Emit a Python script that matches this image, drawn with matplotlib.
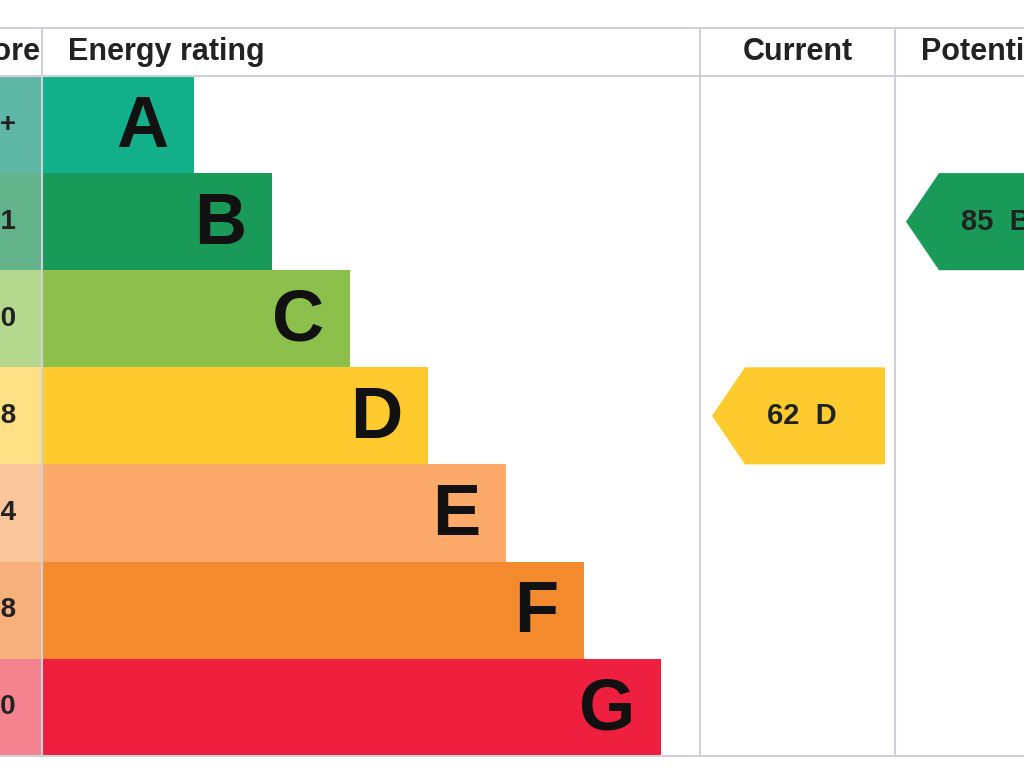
import matplotlib
matplotlib.use("Agg")
import matplotlib.pyplot as plt
from matplotlib.patches import Rectangle, Polygon

plt.rcParams['font.family'] = ['Liberation Sans', 'DejaVu Sans']

letters = ["A", "B", "C", "D", "E", "F", "G"]
ranges = ["92+", "81-91", "69-80", "55-68", "39-54", "21-38", "1-20"]
bar_ends = [194, 272, 350, 428, 506, 584, 661]
colors = ["#12b08a", "#1a9a58", "#8cbf4c", "#fdcb2d", "#fca96a", "#f48a2e", "#ef1f3f"]
light = ["#5fb8a6", "#62b38a", "#b5d88f", "#fde184", "#fcc69c", "#f7b07c", "#f5838f"]
current_val, current_band = 62, "D"
potential_val, potential_band = 85, "B"

fig = plt.figure(figsize=(10.24, 7.68), dpi=100)
ax = fig.add_axes([0, 0, 1, 1])
ax.set_xlim(0, 1024); ax.set_ylim(768, 0); ax.axis("off")

top, rh = 76, 97.1
grid = "#d0d0d8"
for y in (28, 76, 756):
    ax.plot([0, 1024], [y, y], color=grid, lw=1.5)
for x in (42, 700, 895):
    ax.plot([x, x], [28, 756], color=grid, lw=1.5)

ax.text(40, 52, "Score", ha="right", va="center", fontsize=22, fontweight="bold", color="#222")
ax.text(68, 52, "Energy rating", ha="left", va="center", fontsize=22, fontweight="bold", color="#222")
ax.text(798, 52, "Current", ha="center", va="center", fontsize=22, fontweight="bold", color="#222")
ax.text(921, 52, "Potential", ha="left", va="center", fontsize=22, fontweight="bold", color="#222")

for i, (L, r, e, c, lc) in enumerate(zip(letters, ranges, bar_ends, colors, light)):
    y0 = top + i * rh
    ax.add_patch(Rectangle((0, y0), 42, rh, color=lc, lw=0))
    ax.add_patch(Rectangle((43, y0), e - 43, rh, color=c, lw=0))
    ax.text(16, y0 + rh / 2, r, ha="right", va="center", fontsize=20, fontweight="bold", color="#222")
    ax.text(e - 26, y0 + rh / 2 + 3, L, ha="right", va="center", fontsize=52, fontweight="bold", color="#111")

def arrow(x_tip, x_end, band, label):
    i = letters.index(band)
    y0 = top + i * rh
    pts = [(x_tip, y0 + rh / 2), (x_tip + 33, y0), (x_end, y0), (x_end, y0 + rh), (x_tip + 33, y0 + rh)]
    ax.add_patch(Polygon(pts, closed=True, color=colors[i], lw=0))
    ax.text(x_tip + 55, y0 + rh / 2, label, ha="left", va="center", fontsize=21, fontweight="bold", color="#222")

arrow(712, 885, current_band, f"{current_val}  {current_band}")
arrow(906, 1060, potential_band, f"{potential_val}  {potential_band}")

fig.savefig("out.png", dpi=100)
